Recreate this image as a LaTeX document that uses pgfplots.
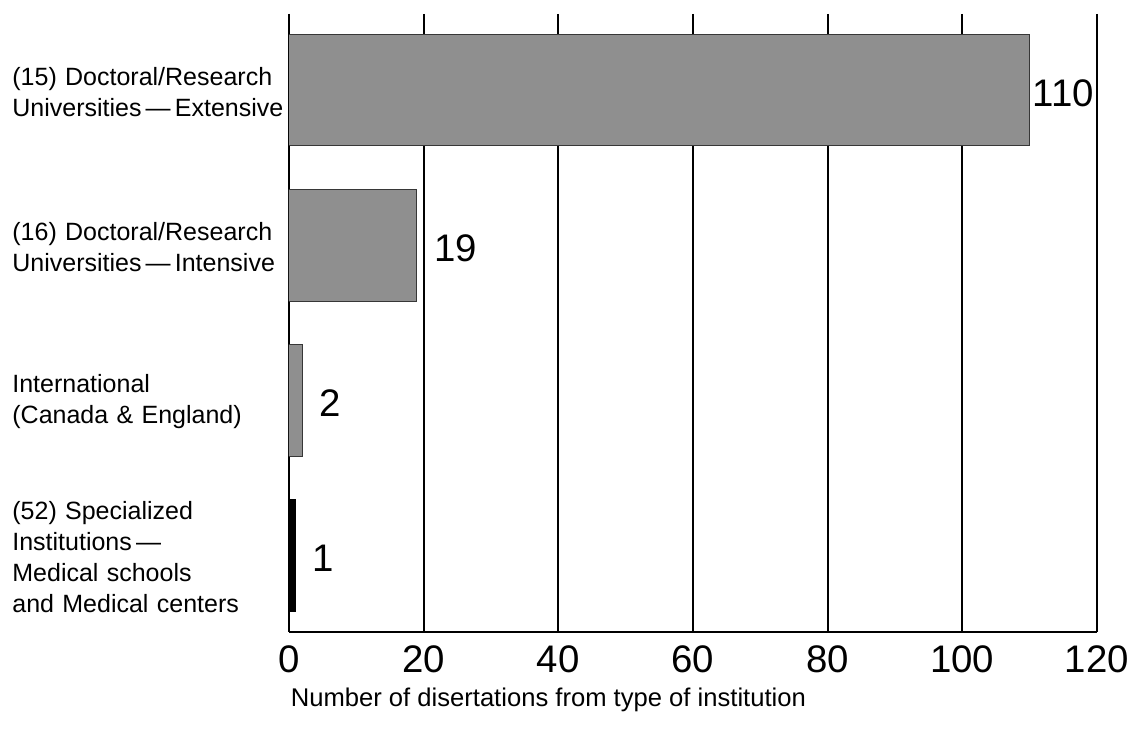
\documentclass[border=0pt]{standalone}
\usepackage{fontspec}
\setmainfont{Liberation Sans}
\usepackage{pgfplots}
\pgfplotsset{compat=1.18}
\definecolor{barfill}{RGB}{143,143,143}
\definecolor{baredge}{RGB}{55,55,55}
\begin{document}
\begin{tikzpicture}
\begin{axis}[
    scale only axis, width=404pt, height=309pt,
    xmin=0, xmax=120, xtick={0,20,...,120},
    ymin=-0.49, ymax=3.493, y dir=reverse,
    ytick={0,1,2,3},
    yticklabels={
      {(15) Doctoral/Research\\Universities\,---\,Extensive},
      {(16) Doctoral/Research\\Universities\,---\,Intensive},
      {International\\(Canada \& England)},
      {(52) Specialized\\Institutions\,---\\Medical schools\\and Medical centers}},
    xbar, bar width=0.72, bar shift=0pt,
    axis x line=bottom, axis y line=left,
    axis line style={-, line width=1pt, black},
    xmajorgrids, grid style={black, line width=1pt},
    major tick length=0pt,
    /pgf/number format/assume math mode=true,
    xticklabel style={font=\fontsize{19.2}{21}\selectfont, inner sep=0pt, anchor=north, yshift=-6.5pt},
    yticklabel style={font=\fontsize{12.5}{15.5}\selectfont, align=left, anchor=west,
      inner sep=0pt, text width=140pt, xshift=-138.5pt, yshift=-0.8pt},
    xlabel={Number of disertations from type of institution},
    xlabel style={font=\fontsize{12.8}{15}\selectfont, at={(axis description cs:0.321,0)},
      anchor=center, yshift=-34pt},
    nodes near coords, point meta=x,
    nodes near coords style={font=\fontsize{19.2}{21}\selectfont, anchor=west, inner sep=0pt, yshift=-1.5pt},
  ]
\addplot[fill=barfill, draw=baredge, line width=0.5pt, nodes near coords style={xshift=1.2pt}]
  coordinates {(110,0)};
\addplot[fill=barfill, draw=baredge, line width=0.5pt, nodes near coords style={xshift=8.5pt}]
  coordinates {(19,1) (2,2)};
\addplot[fill=black, draw=black, line width=0.5pt, nodes near coords style={xshift=8.3pt}]
  coordinates {(1,3)};
\coordinate (ll) at (axis description cs:0,0);
\end{axis}
\path (ll) ++(-144.5pt,-53pt) rectangle ++(565.5pt,369pt);
\end{tikzpicture}
\end{document}
